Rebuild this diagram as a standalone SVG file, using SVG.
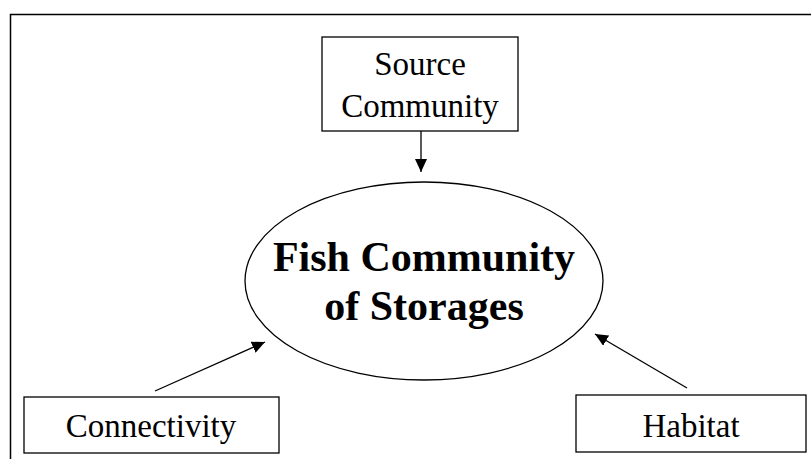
<svg xmlns="http://www.w3.org/2000/svg" width="811" height="459" viewBox="0 0 811 459">
<style>
.box{fill:#fff;stroke:#000;stroke-width:1.3}
.t{font-family:"Liberation Serif","Times New Roman",serif;font-size:33px;fill:#000;text-anchor:middle}
.b{font-family:"Liberation Serif","Times New Roman",serif;font-size:42px;font-weight:bold;fill:#000;text-anchor:middle}
.c{stroke:#000;stroke-width:1.3;fill:none}
</style>
<defs>
<marker id="ah" markerWidth="13" markerHeight="12" refX="13" refY="6" orient="auto" markerUnits="userSpaceOnUse" viewBox="0 0 13 12">
<path d="M0,0 L13,6 L0,12 z" fill="#000"/>
</marker>
</defs>
<rect x="0" y="0" width="811" height="459" fill="#fff"/>
<rect id="frame" x="10.5" y="14.5" width="830" height="470" fill="none" stroke="#000" stroke-width="1.5"/>
<g id="connectors">
<line class="c" x1="421" y1="131" x2="421" y2="172" marker-end="url(#ah)"/>
<line class="c" x1="155" y1="391" x2="265" y2="342" marker-end="url(#ah)"/>
<line class="c" x1="687" y1="388" x2="595" y2="334" marker-end="url(#ah)"/>
</g>
<g id="source">
<rect class="box" x="322" y="37" width="196" height="94"/>
<text class="t" x="420" y="75">Source</text>
<text class="t" x="420" y="117">Community</text>
</g>
<g id="fish">
<ellipse cx="424" cy="281" rx="179" ry="99" fill="#fff" stroke="#000" stroke-width="1.3"/>
<text class="b" x="424" y="271">Fish Community</text>
<text class="b" x="424" y="320">of Storages</text>
</g>
<g id="connectivity">
<rect class="box" x="24" y="397" width="255" height="56"/>
<text class="t" x="151" y="437">Connectivity</text>
</g>
<g id="habitat">
<rect class="box" x="576" y="395" width="230" height="57"/>
<text class="t" x="691" y="437">Habitat</text>
</g>
</svg>
